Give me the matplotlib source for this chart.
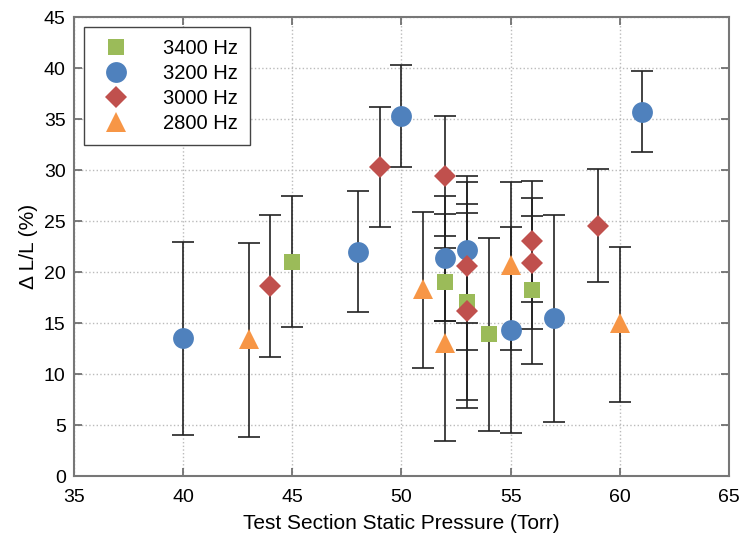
import matplotlib
matplotlib.use("Agg")
import matplotlib.pyplot as plt

plt.rcParams['font.family'] = ['Liberation Sans', 'DejaVu Sans']

# 3400 Hz
p3400 = [45, 52, 53, 54, 56]
v3400 = [21.0, 19.0, 17.1, 13.9, 18.2]
lo3400 = [14.6, 15.2, 7.5, 4.4, 11.0]
hi3400 = [27.5, 25.7, 26.7, 23.3, 25.5]

# 3200 Hz
p3200 = [40, 48, 50, 52, 53, 55, 57, 61]
v3200 = [13.5, 22.0, 35.3, 21.4, 22.2, 14.3, 15.5, 35.7]
lo3200 = [4.0, 16.1, 30.3, 15.2, 15.0, 4.2, 5.3, 31.8]
hi3200 = [22.9, 27.9, 40.3, 27.5, 29.4, 24.4, 25.6, 39.7]

# 3000 Hz
p3000 = [44, 49, 52, 53, 53, 56, 56, 59]
v3000 = [18.6, 30.3, 29.4, 20.6, 16.2, 23.0, 20.9, 24.5]
lo3000 = [11.7, 24.4, 23.5, 12.4, 6.7, 17.1, 14.4, 19.0]
hi3000 = [25.6, 36.2, 35.3, 28.8, 25.8, 28.9, 27.3, 30.1]

# 2800 Hz
p2800 = [43, 51, 52, 55, 60]
v2800 = [13.4, 18.3, 13.0, 20.7, 15.0]
lo2800 = [3.8, 10.6, 3.4, 12.4, 7.3]
hi2800 = [22.8, 25.9, 22.4, 28.8, 22.5]

series = [
    ("3400 Hz", p3400, v3400, lo3400, hi3400, 's', '#9BBB59', 11),
    ("3200 Hz", p3200, v3200, lo3200, hi3200, 'o', '#4F81BD', 15),
    ("3000 Hz", p3000, v3000, lo3000, hi3000, 'D', '#C0504D', 11),
    ("2800 Hz", p2800, v2800, lo2800, hi2800, '^', '#F79646', 15),
]

fig = plt.figure(figsize=(7.45, 5.38), dpi=100)
ax = fig.add_axes([0.0993, 0.1152, 0.8792, 0.8532])

for name, p, v, lo, hi, m, c, ms in series:
    err = [[a - b for a, b in zip(v, lo)], [b - a for a, b in zip(v, hi)]]
    ax.errorbar(p, v, yerr=err, fmt='none', ecolor='#222222', elinewidth=1.2,
                capsize=8, capthick=1.2, zorder=2)
for name, p, v, lo, hi, m, c, ms in series:
    ax.plot(p, v, linestyle='none', marker=m, color=c, markersize=ms,
            markeredgewidth=0, label=name, zorder=3)

ax.set_xlim(35, 65)
ax.set_ylim(0, 45)
ax.set_xticks(range(35, 66, 5))
ax.set_yticks(range(0, 46, 5))
ax.grid(True, linestyle=':', color='#bbbbbb', linewidth=1)
ax.set_axisbelow(True)
ax.tick_params(direction='in', length=6, width=1.2, color='#666666',
               labelsize=14, right=True, top=True)
ax.tick_params(axis='x', pad=9)
ax.tick_params(axis='y', pad=6)
for s in ax.spines.values():
    s.set_color('#777777')
    s.set_linewidth(1.5)

ax.set_xlabel('Test Section Static Pressure (Torr)', fontsize=15, labelpad=6)
ax.set_ylabel('\u0394 L/L (%)', fontsize=15, labelpad=4)

leg = ax.legend(loc='upper left', fontsize=14.5, numpoints=1, fancybox=False,
                framealpha=1, edgecolor='#444444', borderpad=0.6,
                labelspacing=0.3, handletextpad=1.3, borderaxespad=0.5)

fig.savefig('out.png', dpi=100)
